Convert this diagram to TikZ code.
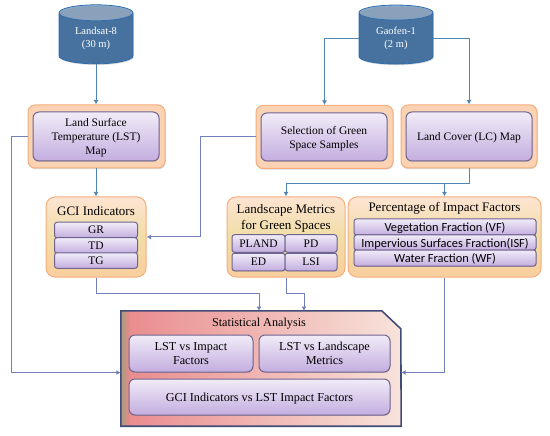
\documentclass[tikz,border=0pt]{standalone}
\usepackage{fontspec}
\setmainfont{Liberation Serif}
\newfontfamily\calibrifont{Carlito}
\usetikzlibrary{arrows.meta,shapes.geometric,shadows}
\tikzset{
  datacyl/.style={cylinder,shape border rotate=90,shape aspect=0.38,draw=cylblue,line width=0.8pt,cylinder uses custom fill,
    cylinder body fill=cylblue,cylinder end fill=cyltop,inner sep=0pt,minimum width=74,minimum height=59,
    text=white,align=center,text height=21pt,font=\fontsize{10.5}{13}\selectfont,drop shadow={shadow xshift=0.6pt,shadow yshift=-1.2pt,opacity=0.3}},
  outerbox/.style={rectangle,rounded corners=7pt,draw=orangeedge,line width=1pt,fill=orangefill,
    drop shadow={shadow xshift=0.6pt,shadow yshift=-1.2pt,opacity=0.3},inner sep=0pt},
  groupbox/.style={rectangle,rounded corners=9pt,draw=orangeedge,line width=1pt,top color=peachtop,bottom color=peachbot,
    middle color=peachmid,inner sep=0pt},
  grouptitle/.style={align=center,font=\fontsize{13}{16}\selectfont},
  procbox/.style={rectangle,rounded corners=6pt,draw=boxedge,line width=1pt,top color=liltop,bottom color=lilbot,
    inner sep=0pt,align=center,text depth=0pt,font=\fontsize{11.5}{14}\selectfont,
    drop shadow={shadow xshift=0.4pt,shadow yshift=-0.8pt,opacity=0.3}},
  statproc/.style={procbox,font=\fontsize{12.2}{14.5}\selectfont},
  itembox/.style={procbox,rounded corners=2.5pt},
  calibox/.style={itembox,font=\calibrifont\fontsize{12.4}{14}\selectfont},
  flow/.style={draw=flowblue,line width=1pt,-{Latex[length=4.5pt,width=5pt]}},
  flowb/.style={flow,draw=flowpurple},
  statbody/.style={left color=statleft,right color=statright},
  statline/.style={draw=statedge,line width=1.6pt,line join=miter}
}
\definecolor{cylblue}{HTML}{2F6CAD}
\definecolor{cyltop}{HTML}{8FB0D6}
\definecolor{orangeedge}{HTML}{F5AE7C}
\definecolor{orangefill}{HTML}{FAD3B4}
\definecolor{peachtop}{HTML}{FCE4D2}
\definecolor{peachmid}{HTML}{F1DDA6}
\definecolor{peachbot}{HTML}{F9CE9E}
\definecolor{boxedge}{HTML}{6F6490}
\definecolor{liltop}{HTML}{F1ECF8}
\definecolor{lilbot}{HTML}{C3ADDF}
\definecolor{flowblue}{HTML}{4F86B4}
\definecolor{flowpurple}{HTML}{7380BC}
\definecolor{statedge}{HTML}{414B78}
\definecolor{statleft}{HTML}{E98A8C}
\definecolor{statright}{HTML}{F7E3DB}
\definecolor{statstrip}{HTML}{A89B7E}
\begin{document}
\begin{tikzpicture}[x=1pt,y=-1pt]
  \useasboundingbox (0,0) rectangle (550,436);
  % sources
  \node[datacyl] (landsat) at (96,38.5) {Landsat-8\\(30 m)};
  \node[datacyl] (gaofen) at (396,38.5) {Gaofen-1\\(2 m)};
  % first row
  \node[outerbox,minimum width=137,minimum height=63] (lstouter) at (96.5,136.5) {};
  \node[procbox,minimum width=126,minimum height=49] (lst) at (96,136.5) {Land Surface\\Temperature (LST)\\Map};
  \node[outerbox,minimum width=137,minimum height=63] (selouter) at (324.5,137) {};
  \node[procbox,minimum width=126,minimum height=48] (sel) at (324,137) {Selection of Green\\Space Samples};
  \node[outerbox,minimum width=136,minimum height=63] (lcouter) at (469,136.5) {};
  \node[procbox,minimum width=126,minimum height=49] (lc) at (469,136.5) {Land Cover (LC) Map};
  % second row
  \node[groupbox,minimum width=100,minimum height=80] (gci) at (96,237) {};
  \node[grouptitle] (gcititle) at (96,211) {GCI Indicators};
  \node[itembox,minimum width=83,minimum height=15.5] (gr) at (96,230) {GR};
  \node[itembox,minimum width=83,minimum height=15.5] (td) at (96,245.5) {TD};
  \node[itembox,minimum width=83,minimum height=15.5] (tg) at (96,260.5) {TG};
  \node[groupbox,minimum width=118,minimum height=80] (metrics) at (286,237) {};
  \node[grouptitle] (metricstitle) at (286,218.5) {Landscape Metrics\\for Green Spaces};
  \node[itembox,minimum width=53,minimum height=17.5] (pland) at (258.5,243.5) {PLAND};
  \node[itembox,minimum width=52,minimum height=17.5] (pd) at (311,243.5) {PD};
  \node[itembox,minimum width=53,minimum height=17.5] (ed) at (258.5,262) {ED};
  \node[itembox,minimum width=52,minimum height=17.5] (lsi) at (311,262) {LSI};
  \node[groupbox,minimum width=193,minimum height=80] (pct) at (444.5,237) {};
  \node[grouptitle] (pcttitle) at (444.5,208.5) {Percentage of Impact Factors};
  \node[calibox,minimum width=182,minimum height=16] (vf) at (445,227) {Vegetation Fraction (VF)};
  \node[calibox,minimum width=182,minimum height=15] (isf) at (445,242.5) {Impervious Surfaces Fraction(ISF)};
  \node[calibox,minimum width=182,minimum height=16] (wf) at (445,258) {Water Fraction (WF)};
  % analysis
  \node[minimum width=280,minimum height=115,inner sep=0pt] (stat) at (261,368.5) {};
  \fill[statbody] (stat.north west) -- ++(261,0) -- ++(19,18) -- (stat.south east) -- (stat.south west) -- cycle;
  \fill[left color=statstrip,right color=statleft] (stat.north west) rectangle ([xshift=9pt]stat.south west);
  \draw[statline] (stat.north west) -- ++(261,0) -- ++(19,18) -- (stat.south east) -- (stat.south west) -- cycle;
  \node[font=\fontsize{12.2}{14}\selectfont] (stattitle) at (259,323.5) {Statistical Analysis};
  \node[statproc,minimum width=124,minimum height=37] (impact) at (191,353.5) {LST vs Impact\\Factors};
  \node[statproc,minimum width=131,minimum height=37] (landm) at (324.5,353.5) {LST vs Landscape\\Metrics};
  \node[statproc,minimum width=261,minimum height=36] (gcilst) at (259.5,397) {GCI Indicators vs LST Impact Factors};
  \coordinate (statina) at (259,311);
  \coordinate (statinb) at (304,311);
  % connectors
  \draw[flow] (landsat.south) -- (lstouter.north -| landsat.south);
  \draw[flow] (lstouter.south -| gci.north) -- (gci.north);
  \draw[flow] (gaofen.west) -| (selouter.north);
  \draw[flow] (gaofen.east) -| (lcouter.north);
  \draw[flow] (lcouter.south) -- ++(0,15) -| (metrics.north);
  \draw[flow] (lcouter.south) ++(0,15) -| (pct.north);
  \draw[flowb] (selouter.west) -- ++(-55,0) |- (gci.east);
  \draw[flowb] (lstouter.west) -- ++(-16,0) |- (stat.west |- impact.south);
  \draw[flowb] (gci.south) -- ++(0,16) -| (statina);
  \draw[flowb] (metrics.south) -- ++(0,16) -| (statinb);
  \draw[flowb] (pct.south) |- (stat.east |- impact.south);
\end{tikzpicture}
\end{document}
